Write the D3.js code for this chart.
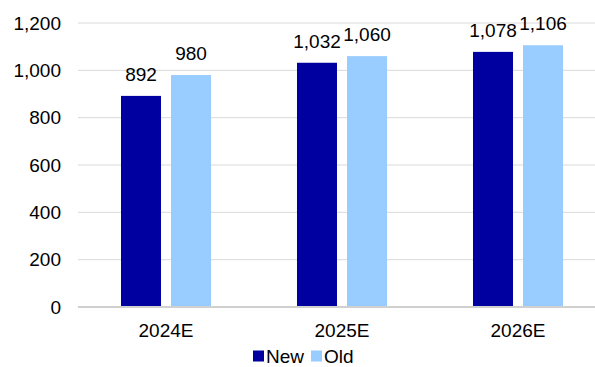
<!DOCTYPE html>
<html>
<head>
<meta charset="utf-8">
<script src="https://cdn.jsdelivr.net/npm/d3@7/dist/d3.min.js"></script>
<style>
  html, body { margin: 0; padding: 0; background: #fff; }
  svg { display: block; font-family: "Liberation Sans", Arial, sans-serif; }
</style>
</head>
<body>
<svg id="chart" width="595" height="367"></svg>
<script>
// Estimates by year, new versus old
const categories = ["2024E", "2025E", "2026E"];
const seriesNames = ["New", "Old"];
const newValues = [892, 1032, 1078];
const oldValues = [980, 1060, 1106];
const yTicks = [0, 200, 400, 600, 800, 1000, 1200];
const colors = ["#0000A0", "#99CCFF"];

const FS = 19;
const svg = d3.select("#chart");
const W = 595, H = 367;
const plot = { left: 78, right: 606, top: 23, bottom: 307 };

const rows = categories.map((c, i) => ({ cat: c, values: [newValues[i], oldValues[i]] }));

const x0 = d3.scaleBand()
  .domain(categories)
  .range([plot.left, plot.right])
  .paddingInner(0.4886)
  .paddingOuter(0.2443);

const x1 = d3.scaleBand()
  .domain(seriesNames)
  .range([0, x0.bandwidth()])
  .paddingInner(0.2);

const y = d3.scaleLinear().domain([0, 1200]).range([plot.bottom, plot.top]);
const fmt = d3.format(",");

// Horizontal gridlines
svg.append("g")
  .selectAll("line")
  .data(yTicks.filter(t => t > 0))
  .join("line")
  .attr("x1", plot.left).attr("x2", W)
  .attr("y1", d => y(d)).attr("y2", d => y(d))
  .attr("stroke", "#d9d9d9").attr("stroke-width", 1);

// Y axis labels
const yAxis = d3.axisLeft(y).tickValues(yTicks).tickFormat(fmt).tickSize(0).tickPadding(0);
const gy = svg.append("g").attr("transform", `translate(61,0)`).call(yAxis);
gy.select(".domain").remove();
gy.selectAll("text")
  .attr("font-size", FS).attr("fill", "#000")
  .attr("font-family", "'Liberation Sans', Arial, sans-serif");

// Bars
const groups = svg.append("g")
  .selectAll("g")
  .data(rows)
  .join("g")
  .attr("transform", d => `translate(${x0(d.cat)},0)`);

groups.selectAll("rect")
  .data(d => d.values.map((v, k) => ({ name: seriesNames[k], value: v, k })))
  .join("rect")
  .attr("x", d => x1(d.name))
  .attr("width", x1.bandwidth())
  .attr("y", d => y(d.value))
  .attr("height", d => y(0) - y(d.value))
  .attr("fill", d => colors[d.k]);

// Value labels above bars
groups.selectAll("text")
  .data(d => d.values.map((v, k) => ({ name: seriesNames[k], value: v, k })))
  .join("text")
  .attr("x", d => x1(d.name) + x1.bandwidth() / 2)
  .attr("y", d => y(d.value) - 15)
  .attr("text-anchor", "middle")
  .attr("font-size", FS)
  .attr("fill", "#000")
  .text(d => fmt(d.value));

// Baseline
svg.append("line")
  .attr("x1", plot.left).attr("x2", W)
  .attr("y1", y(0)).attr("y2", y(0))
  .attr("stroke", "#d0d0d0").attr("stroke-width", 2);

// Category labels
const xAxis = d3.axisBottom(x0).tickSize(0).tickPadding(0);
const gx = svg.append("g").attr("transform", `translate(0,${plot.bottom + 16})`).call(xAxis);
gx.select(".domain").remove();
gx.selectAll("text")
  .attr("font-size", FS).attr("fill", "#000")
  .attr("font-family", "'Liberation Sans', Arial, sans-serif")
  .attr("dy", "0.71em");

// Legend
const legend = svg.append("g").attr("transform", "translate(253,356)");
const legendOffsets = [0, 58];
seriesNames.forEach((name, k) => {
  const g = legend.append("g").attr("transform", `translate(${legendOffsets[k]},0)`);
  g.append("rect").attr("x", 0).attr("y", -5.5).attr("width", 11).attr("height", 11).attr("fill", colors[k]);
  g.append("text").attr("x", 13).attr("y", 0).attr("dy", "0.35em")
    .attr("font-size", FS).attr("fill", "#000").text(name);
});
</script>
</body>
</html>
